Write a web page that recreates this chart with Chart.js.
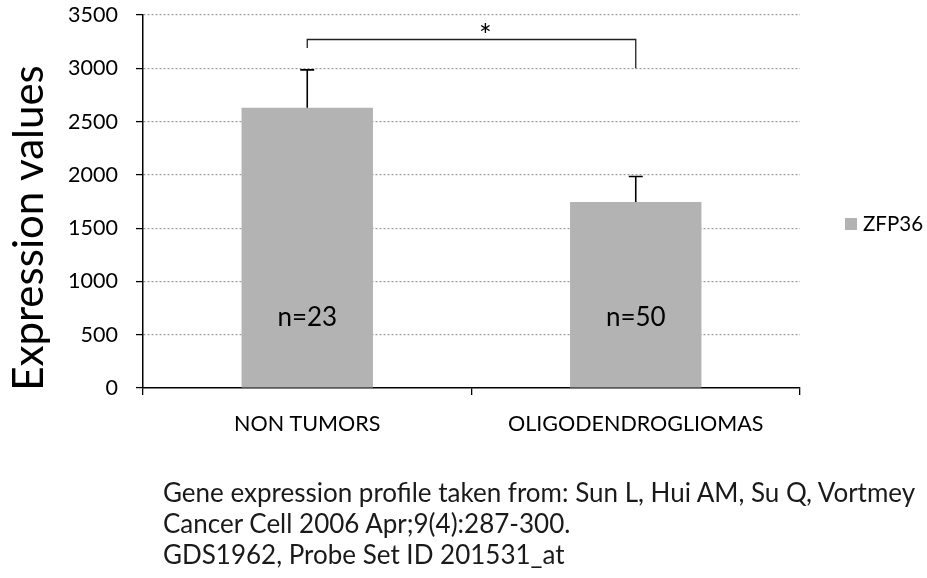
<!DOCTYPE html>
<html><head><meta charset="utf-8">
<script src="https://cdn.jsdelivr.net/npm/chart.js@4/dist/chart.umd.min.js"></script>
<style>
html,body{margin:0;padding:0;background:#fff;}
#wrap{position:relative;width:927px;height:578px;overflow:hidden;background:#fff;}
canvas{position:absolute;left:0;top:0;}
#cite{position:absolute;left:163px;top:477px;font-family:Lato,sans-serif;font-size:26px;line-height:31px;color:#1a1a1a;white-space:nowrap;}
</style></head>
<body><div id="wrap"><canvas id="c" width="927" height="578"></canvas><div id="cite"></div></div>
<script>
// ---- data ----
const categories = ['NON TUMORS', 'OLIGODENDROGLIOMAS'];
const seriesName = 'ZFP36';
const meanValues = [2630, 1745];
const errorTops = [2985, 1985];
const sampleSizes = ['n=23', 'n=50'];
const yMin = 0, yMax = 3500, yStep = 500;
const axisTitle = 'Expression values';
const sigLevel = 3270, sigLeftEnd = 3190, sigRightEnd = 3000, sigMark = '*';
const citationLines = [
  'Gene expression profile taken from: Sun L, Hui AM, Su Q, Vortmey',
  'Cancer Cell 2006 Apr;9(4):287-300.',
  'GDS1962, Probe Set ID 201531_at'
];

document.getElementById('cite').innerHTML = citationLines.map(s => '<div>' + s + '</div>').join('');

const FONT = 'Lato';
const overlay = {
  id: 'overlay',
  afterDatasetsDraw(chart) {
    const {ctx, scales: {y}, chartArea} = chart;
    const meta = chart.getDatasetMeta(0);
    ctx.save();
    // error bars
    ctx.strokeStyle = '#000'; ctx.lineWidth = 1.6;
    meta.data.forEach((bar, i) => {
      const cx = bar.x, yt = y.getPixelForValue(errorTops[i]);
      ctx.beginPath();
      ctx.moveTo(cx, bar.y); ctx.lineTo(cx, yt);
      ctx.moveTo(cx - 7, yt); ctx.lineTo(cx + 7, yt);
      ctx.stroke();
    });
    // n labels
    ctx.fillStyle = '#000';
    ctx.font = '26px ' + FONT;
    ctx.textAlign = 'center'; ctx.textBaseline = 'middle';
    meta.data.forEach((bar, i) => {
      ctx.fillText(sampleSizes[i], bar.x, chartArea.bottom - 70);
    });
    // significance bracket
    const x1 = meta.data[0].x, x2 = meta.data[1].x;
    const yl = y.getPixelForValue(sigLevel);
    ctx.strokeStyle = '#222'; ctx.lineWidth = 1.3;
    ctx.beginPath();
    ctx.moveTo(x1, y.getPixelForValue(sigLeftEnd)); ctx.lineTo(x1, yl);
    ctx.lineTo(x2, yl); ctx.lineTo(x2, y.getPixelForValue(sigRightEnd));
    ctx.stroke();
    ctx.font = '30px ' + FONT;
    ctx.fillText(sigMark, (x1 + x2) / 2 + 14, yl - 3);
    ctx.restore();
  },
  afterDraw(chart) {
    const {ctx, chartArea} = chart;
    ctx.save();
    // legend
    ctx.fillStyle = '#b3b3b3';
    ctx.fillRect(chartArea.right + 45, 218, 12, 12);
    ctx.fillStyle = '#000';
    ctx.font = '20.5px ' + FONT;
    ctx.textAlign = 'left'; ctx.textBaseline = 'middle';
    ctx.fillText(chart.data.datasets[0].label, chartArea.right + 63, 224);
    // axis title
    ctx.translate(43, 228);
    ctx.rotate(-Math.PI / 2);
    ctx.font = '42px ' + FONT;
    ctx.textAlign = 'center'; ctx.textBaseline = 'alphabetic';
    ctx.fillText(axisTitle, 0, 0);
    ctx.restore();
  }
};

function draw() {
  new Chart(document.getElementById('c'), {
    type: 'bar',
    data: {
      labels: categories,
      datasets: [{
        label: seriesName, data: meanValues,
        backgroundColor: '#b3b3b3', borderWidth: 0,
        barPercentage: 0.4, categoryPercentage: 1
      }]
    },
    options: {
      responsive: false, animation: false, devicePixelRatio: 1,
      layout: {padding: {left: 0, right: 127, top: 15, bottom: 0}},
      plugins: {legend: {display: false}, tooltip: {enabled: false}},
      scales: {
        x: {
          grid: {display: true, drawOnChartArea: false, drawTicks: true, tickLength: 7, color: '#000', lineWidth: 1.3, offset: true},
          border: {display: true, color: '#000', width: 1.5},
          ticks: {font: {family: FONT, size: 21.5}, color: '#000', padding: 16, maxRotation: 0},
          afterFit(s) { s.height = 190; s.paddingLeft = 0; s.paddingRight = 0; }
        },
        y: {
          min: yMin, max: yMax,
          ticks: {stepSize: yStep, font: {family: FONT, size: 21.5}, color: '#000', padding: 18,
                  callback: v => String(v)},
          grid: {
            color: c => (c.tick && c.tick.value === 0) ? 'rgba(0,0,0,0)' : '#9a9a9a',
            lineWidth: 1.2, tickColor: '#000', tickLength: 7, tickBorderDash: [], tickWidth: 1.3
          },
          border: {display: true, color: '#000', width: 1.5, dash: [2, 2]},
          afterFit(s) { s.width = 143; s.paddingTop = 0; s.paddingBottom = 0; }
        }
      }
    },
    plugins: [overlay]
  });
}
(document.fonts ? document.fonts.load('20px Lato') : Promise.resolve()).then(draw, draw);
</script>
</body></html>
